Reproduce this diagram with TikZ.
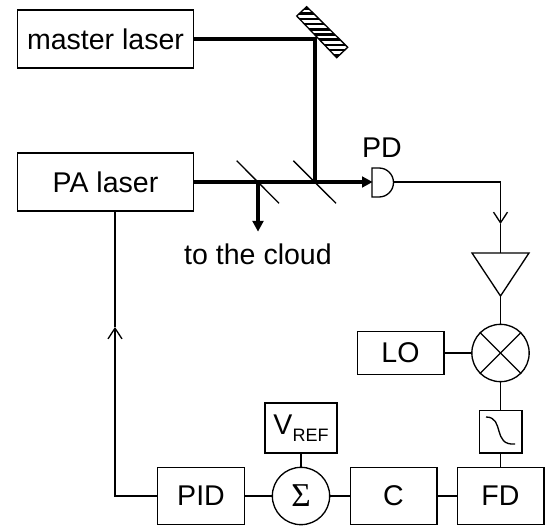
\documentclass[tikz,border=0pt]{standalone}
\usepackage{fontspec}
\setmainfont{Liberation Sans}
\newfontfamily\sigmafont{Liberation Serif}
\usetikzlibrary{arrows.meta}
\begin{document}
\begin{tikzpicture}[
  x=0.75pt, y=-0.75pt,
  box/.style={draw, line width=1pt, inner sep=0pt, text centered, font=\fontsize{21.4}{24}\selectfont},
  beam/.style={line width=2.8pt},
  wire/.style={line width=1pt},
  beamarrow/.style={beam, -{Triangle[length=8pt, width=8pt]}, shorten >=-0.5pt},
  note/.style={inner sep=0pt, font=\fontsize{21.4}{24}\selectfont},
  circ/.style={draw, circle, line width=1pt, minimum size=43pt, inner sep=0pt},
  openarrow/.style={wire, -{Straight Barb[length=8pt, width=10.5pt, line width=1pt]}},
]
\useasboundingbox (0,0) rectangle (549,527);

% Boxes
\node[box, minimum width=132pt, minimum height=43.5pt] (master) at (105.5,39) {master laser};
\node[box, minimum width=132pt, minimum height=43.5pt] (pa)     at (105.5,182) {PA laser};
\node[box, minimum width=65pt, minimum height=32.5pt]  (lo)     at (400.5,353) {LO};
\node[box, minimum width=32pt, minimum height=32pt]    (filter) at (500.5,431.5) {};
\node[box, minimum width=65pt, minimum height=43pt]    (fd)     at (500.5,496) {FD};
\node[box, minimum width=65pt, minimum height=43pt]    (c)      at (393.5,496) {C};
\node[box, minimum width=65pt, minimum height=43pt]    (pid)    at (201,496) {PID};
\node[box, minimum width=54pt, minimum height=37.5pt]  (vref)   at (301,428) {V\raisebox{-5pt}{\fontsize{13.5}{14}\selectfont REF}};

% Sum and mixer
\node[circ] (sum) at (301,496) {};
\node[font=\fontsize{25}{28}\selectfont\sigmafont, inner sep=0pt] (sigma) at (sum) {Σ};
\node[circ] (mixer) at (500.5,353) {};
\draw[wire] (mixer.north west) -- (mixer.south east);
\draw[wire] (mixer.north east) -- (mixer.south west);

% Amplifier
\coordinate (amptop) at (500.5,253);
\coordinate (ampl) at (472,253);
\coordinate (ampr) at (529,253);
\coordinate (ampbot) at (500.5,296);
\draw[wire] (ampl) -- (ampr) -- (ampbot) -- cycle;

% Filter curve
\draw[wire] (486,417) .. controls (505,417) and (492,446) .. (515,444);

% Mirror and beam splitters
\begin{scope}
  \clip (306.7,6.7) -- (347.7,47.3) -- (336.7,57.7) -- (296.7,16) -- cycle;
  \foreach \i in {0,...,10}
    \draw[line width=2pt] (290,{8.5+\i*5.2}) -- (350,{8.5+\i*5.2});
\end{scope}
\draw[wire] (306.7,6.7) -- (347.7,47.3) -- (336.7,57.7) -- (296.7,16) -- cycle;
\draw[wire] (236.7,160.7) -- (279,203.3);
\draw[wire] (293.3,160.7) -- (336,203.3);

% Detector
\coordinate (pdin) at (372,182);
\coordinate (pdout) at (393.5,182);
\draw[wire] (372,168) -- (379,168) arc (-90:90:14.5) -- (372,197) -- cycle;
\node[note] (pdlabel) at (382,148) {PD};
\node[note] (cloud) at (258,254) {to the cloud};

% Beams
\coordinate (mirrorhit) at (315,39);
\coordinate (bs2) at (315,182);
\coordinate (bs1) at (258,182);
\coordinate (cloudtip) at (258,231);
\draw[beam] (master.east) -- (mirrorhit) -- (bs2);
\draw[beamarrow] (pa.east) -- (pdin);
\draw[beamarrow] (bs1) -- (cloudtip);

% Wires
\coordinate (corner) at (500.5,182);
\coordinate (midwire) at (500.5,224);
\draw[openarrow] (pdout) -- (corner) -- (midwire);
\draw[wire] (midwire) -- (amptop);
\draw[wire] (ampbot) -- (mixer);
\draw[wire] (lo) -- (mixer);
\draw[wire] (mixer) -- (filter);
\draw[wire] (filter) -- (fd);
\draw[wire] (fd) -- (c);
\draw[wire] (c) -- (sum);
\draw[wire] (sum) -- (pid);
\draw[wire] (sum) -- (vref);
\coordinate (pabot) at (115,211);
\coordinate (loopcorner) at (115,496);
\coordinate (looparrow) at (115,327);
\draw[openarrow] (pid) -- (loopcorner) -- (looparrow);
\draw[wire] (looparrow) -- (pabot);
\end{tikzpicture}
\end{document}
